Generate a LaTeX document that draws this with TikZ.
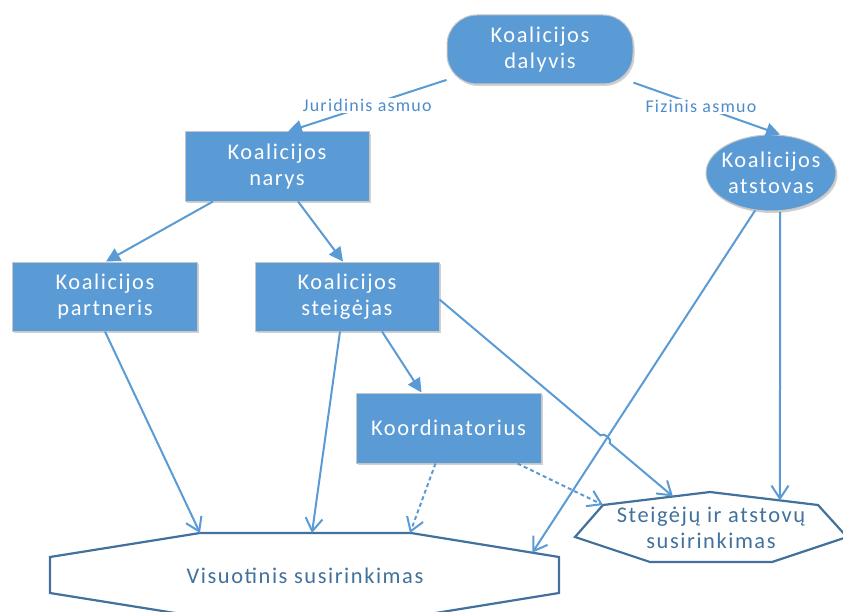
\documentclass[tikz,border=0pt]{standalone}
\usepackage{fontspec}
\setmainfont{Carlito}
\newfontfamily\lsfont[LetterSpace=7]{Carlito}
\usetikzlibrary{arrows.meta,calc,shadows,shapes.geometric}
\definecolor{fillblue}{HTML}{5B9BD5}
\definecolor{lineblue}{HTML}{5B9BD5}
\definecolor{darkblue}{HTML}{41719C}
\definecolor{labelblue}{HTML}{4D8CCB}
\begin{document}
\begin{tikzpicture}[x=1bp,y=-1bp,
  box/.style={draw=gray!45, line width=1bp, fill=fillblue, text=white,
    font=\lsfont\fontsize{22.5}{26.5}\selectfont, align=center, inner sep=0pt,
    drop shadow={shadow xshift=1.5bp, shadow yshift=-2bp, opacity=0.18, fill=black}},
  boxtext/.style={text=white, font=\lsfont\fontsize{22.5}{26.5}\selectfont, align=center, inner sep=0pt},
  conn/.style={draw=lineblue, line width=2bp},
  tri/.style={-{Triangle[length=14bp,width=14bp]}},
  barb/.style={-{Straight Barb[length=13bp,width=17bp]}},
  dsh/.style={dash pattern=on 4bp off 3bp},
  lbl/.style={fill=white, text=labelblue, font=\lsfont\fontsize{18}{21}\selectfont, inner sep=1.5bp},
  oct/.style={draw=darkblue, line width=2.2bp, fill=white},
  octtext/.style={text=darkblue, font=\lsfont\fontsize{22.5}{26}\selectfont, align=center, inner sep=0pt}
]
\useasboundingbox (0,0) rectangle (843,612);

% boxes
\node[box, minimum width=186bp, minimum height=69bp, rounded corners=30bp] (dalyvis) at (540,49.5) {Koalicijos\\dalyvis};
\node[box, minimum width=184bp, minimum height=69bp] (narys) at (277,166.5) {Koalicijos\\narys};
\node[box, ellipse, minimum width=130bp, minimum height=76bp] (atstovas) at (771,173) {};
\node[boxtext] (atstovasT) at (atstovas.center) {Koalicijos\\atstovas};
\node[box, minimum width=184bp, minimum height=69bp] (partneris) at (105,296.5) {Koalicijos\\partneris};
\node[box, minimum width=184bp, minimum height=69bp] (steig) at (347,296.5) {Koalicijos\\steigėjas};
\node[box, minimum width=185bp, minimum height=70bp] (koord) at (448.5,428) {Koordinatorius};

% octagons
\coordinate (va) at (200,533); \coordinate (vb) at (411,533); \coordinate (vc) at (559,557);
\coordinate (vd) at (559,593); \coordinate (ve) at (411,617); \coordinate (vf) at (200,617);
\coordinate (vg) at (50,593); \coordinate (vh) at (50,557);
\draw[oct] (va) -- (vb) -- (vc) -- (vd) -- (ve) -- (vf) -- (vg) -- (vh) -- cycle;
\node[octtext] (visuot) at (305,576) {Visuotinis susirinkimas};

\coordinate (wa) at (575,537); \coordinate (wb) at (603,505); \coordinate (wc) at (710,492);
\coordinate (wd) at (818,505); \coordinate (we) at (847,537); \coordinate (wf) at (772,562);
\coordinate (wg) at (650,562);
\draw[oct] (wa) -- (wb) -- (wc) -- (wd) -- (we) -- (wf) -- (wg) -- cycle;
\node[octtext] (steigas) at (711,528) {Steigėjų ir atstovų\\susirinkimas};

% target points
\coordinate (t9) at ($(vb)!0.82!(vc)$);
\coordinate (t8) at ($(wb)!0.654!(wc)$);
\coordinate (t10) at ($(wc)!0.648!(wd)$);
\coordinate (t6) at (312,533);
\coordinate (t11) at (410,533);

% top connectors
\draw[conn,tri] (dalyvis) -- node[lbl, pos=0.5] (jur) {Juridinis asmuo} ($(narys.north)+(11,0)$);
\draw[conn,tri] (dalyvis) -- node[lbl, pos=0.46] (fiz) {Fizinis asmuo} ($(atstovas.north)+(9,0)$);
\draw[conn,tri] ($(narys.south)+(-64,0)$) -- ($(partneris.north)+(1,0)$);
\draw[conn,tri] ($(narys.south)+(21,0)$) -- ($(steig.north)+(-4,0)$);
\draw[conn,tri] ($(steig.south)+(35,0)$) -- ($(koord.north)+(-27,0)$);

% lower connectors
\draw[conn,barb] (partneris.south) -- (va);
\draw[conn,barb] ($(steig.south)+(-7,0)$) -- (t6);
\draw[conn,barb,dsh] ($(koord.south)+(-13,0)$) -- (t11);
\draw[conn,barb,dsh] ($(koord.south)+(69,0)$) -- (wb);
\draw[conn,barb] (atstovas.247) -- (t9);
\draw[conn,barb] ($(atstovas.south)+(9,0)$) -- (t10);
\coordinate (s8) at ($(steig.east)+(0,3)$);
\coordinate (j1) at ($(s8)!0.690!(t8)$);
\coordinate (j2) at ($(s8)!0.729!(t8)$);
\draw[conn,barb] (s8) -- (j1) to[bend left=90] (j2) -- (t8);
\end{tikzpicture}
\end{document}
